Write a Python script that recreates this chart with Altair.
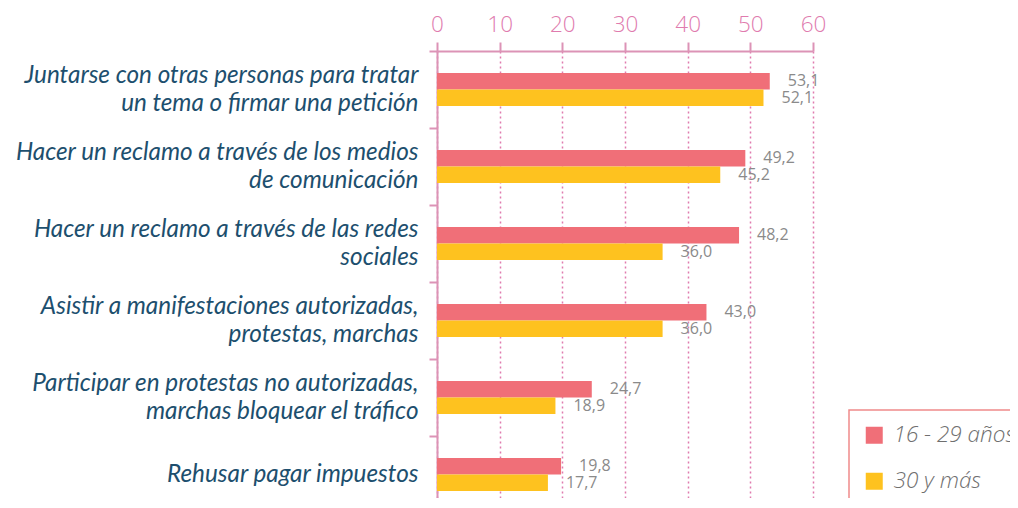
import altair as alt
import pandas as pd

categories = [
    "Juntarse con otras personas para tratar|un tema o firmar una petición",
    "Hacer un reclamo a través de los medios|de comunicación",
    "Hacer un reclamo a través de las redes|sociales",
    "Asistir a manifestaciones autorizadas,|protestas, marchas",
    "Participar en protestas no autorizadas,|marchas bloquear el tráfico",
    "Rehusar pagar impuestos",
]
groups = ["16 - 29 años", "30 y más"]
young = [53.1, 49.2, 48.2, 43.0, 24.7, 19.8]
older = [52.1, 45.2, 36.0, 36.0, 18.9, 17.7]
x_ticks = [0, 10, 20, 30, 40, 50, 60]

rows = []
for c, a, b in zip(categories, young, older):
    rows.append({"cat": c, "grp": groups[0], "v": a})
    rows.append({"cat": c, "grp": groups[1], "v": b})
df = pd.DataFrame(rows)

PINK_AX = "#DC93B6"
PINK_TXT = "#E07BAE"

y_enc = alt.Y("cat:N", sort=categories, title=None,
              scale=alt.Scale(range=[0, 462], paddingInner=0, paddingOuter=0),
              axis=alt.Axis(labelExpr="split(datum.label, '|')", tickBand="extent",
                            labelFont="Lato", labelFontStyle="italic", labelFontSize=24.3,
                            labelColor="#1D4F6E", labelLineHeight=28, labelPadding=11,
                            labelOffset={"condition": {"test": "indexof(datum.label, '|') >= 0",
                                                       "value": -14}, "value": 0},
                            tickSize=8, tickColor=PINK_AX, tickWidth=2,
                            domainColor=PINK_AX, domainWidth=2, labelLimit=500))
yoff = alt.YOffset("grp:N", sort=groups,
                   scale=alt.Scale(range=[22, 55], paddingInner=0, paddingOuter=0))

base = alt.Chart(df)

bars = base.mark_bar().encode(
    x=alt.X("v:Q", title=None, scale=alt.Scale(domain=[0, 60], nice=False),
            axis=alt.Axis(orient="top", values=x_ticks, labelFont="Open Sans",
                          labelFontWeight=300, labelFontSize=22.5, labelColor=PINK_TXT,
                          labelPadding=6, labelFlush=False, labelOverlap=False,
                          tickSize=9, tickColor=PINK_AX, tickWidth=2,
                          domainColor=PINK_AX, domainWidth=2,
                          grid=True, gridColor=PINK_TXT, gridDash=[2, 3], gridWidth=1.5)),
    y=y_enc,
    yOffset=yoff,
    color=alt.Color("grp:N", sort=groups, title=None,
                    scale=alt.Scale(domain=groups, range=["#F06F78", "#FEC21F"]),
                    legend=alt.Legend(orient="none", legendX=412, legendY=359,
                                      symbolType="square", symbolSize=289,
                                      symbolStrokeWidth=0, symbolOpacity=1,
                                      labelFont="Open Sans", labelFontStyle="italic",
                                      labelFontWeight=300, labelFontSize=22.5,
                                      labelColor="#6F6F6F", labelOffset=8,
                                      rowPadding=23, padding=14,
                                      strokeColor="#F08A8A", labelLimit=300)),
)

labels = base.transform_calculate(
    lab="replace(format(datum.v, '.1f'), '.', ',')"
).mark_text(align="left", baseline="middle", dx=18, font="Open Sans",
            fontSize=16, color="#8A8A8A").encode(
    x="v:Q", y=alt.Y("cat:N", sort=categories), yOffset=yoff, text="lab:N")

chart = alt.layer(bars, labels).properties(
    width=376, height=447,
    autosize=alt.AutoSizeParams(type="none"),
    padding={"left": 429, "top": 43, "right": 197, "bottom": 0},
).configure_view(stroke=None).configure_legend(strokeWidth=1.5)

chart.save("out.html", embed_options={"renderer": "svg", "actions": False})
